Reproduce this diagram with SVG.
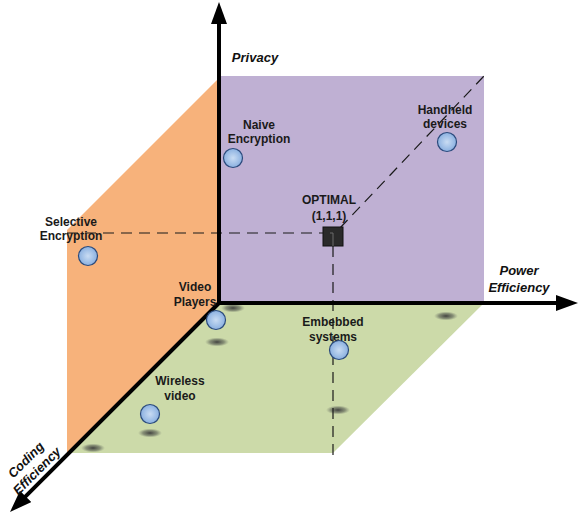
<svg xmlns="http://www.w3.org/2000/svg" width="579" height="515" viewBox="0 0 579 515">
  <defs>
    <style>
      .lbl { font-family: "Liberation Sans", Arial, sans-serif; font-weight: bold; font-size: 12px; fill: #1a1a1a; text-anchor: middle; }
      .ax { font-family: "Liberation Sans", Arial, sans-serif; font-weight: bold; font-style: italic; font-size: 13px; fill: #111; text-anchor: middle; }
      .axis { stroke: #000; stroke-width: 4; fill: none; marker-end: url(#arrow); }
      .dash { stroke: #1a1a1a; stroke-width: 1.2; stroke-dasharray: 11 7; fill: none; }
      .pt { fill: url(#ball); stroke: #2b4a7c; stroke-width: 1.2; }
      .sh { fill: url(#shadow); }
    </style>
    <radialGradient id="ball" cx="0.5" cy="0.5" r="0.5">
      <stop offset="0" stop-color="#c9dcf3"/>
      <stop offset="1" stop-color="#8ab0e0"/>
    </radialGradient>
    <radialGradient id="shadow" cx="0.5" cy="0.5" r="0.5">
      <stop offset="0" stop-color="#3a3a3a" stop-opacity="0.95"/>
      <stop offset="0.6" stop-color="#5a5f55" stop-opacity="0.6"/>
      <stop offset="1" stop-color="#7a8070" stop-opacity="0"/>
    </radialGradient>
    <marker id="arrow" markerUnits="userSpaceOnUse" viewBox="0 0 22 16" markerWidth="22" markerHeight="16" refX="12" refY="8" orient="auto">
      <path d="M0,0 L22,8 L0,16 z" fill="#000"/>
    </marker>
  </defs>

  <g id="planes">
    <polygon id="plane-green" points="219,303 484,303 333,453 69,453" fill="#ccdaa9"/>
    <polygon id="plane-purple" points="219,76 484,76 484,303 219,303" fill="#bfb0d3"/>
    <polygon id="plane-orange" points="219,78 67,230 67,455 219,303" fill="#f7b27b"/>
  </g>

  <g id="shadows">
    <ellipse class="sh" cx="233" cy="308" rx="12" ry="4.5"/>
    <ellipse class="sh" cx="217" cy="342" rx="12" ry="4.5"/>
    <ellipse class="sh" cx="150" cy="433" rx="12" ry="4.5"/>
    <ellipse class="sh" cx="93" cy="448" rx="12" ry="4.5"/>
    <ellipse class="sh" cx="446" cy="316" rx="12" ry="4.5"/>
    <ellipse class="sh" cx="338" cy="410" rx="12" ry="4.5"/>
  </g>

  <g id="connectors">
    <line class="dash" x1="67" y1="233" x2="323" y2="233"/>
    <line class="dash" x1="333" y1="246" x2="333" y2="455"/>
    <line class="dash" x1="340" y1="228" x2="484" y2="76"/>
    <line class="axis" x1="219" y1="305" x2="219" y2="12"/>
    <line class="axis" x1="217" y1="303" x2="568" y2="303"/>
    <line class="axis" x1="219" y1="303" x2="17.1" y2="504.9"/>
  </g>

  <g id="optimal">
    <rect x="323" y="227" width="20" height="19" fill="#2a2a2a" stroke="#111" stroke-width="1"/>
    <path d="M330,233 L333,233 L333,246" stroke="#6a6a6a" stroke-width="1" fill="none"/>
    <text class="lbl" x="329" y="204">OPTIMAL</text>
    <text class="lbl" x="329" y="220">(1,1,1)</text>
  </g>

  <g id="naive">
    <text class="lbl" x="259" y="129">Naive</text>
    <text class="lbl" x="259" y="143">Encryption</text>
    <circle class="pt" cx="233" cy="158" r="9.5"/>
  </g>

  <g id="selective">
    <text class="lbl" x="71" y="226">Selective</text>
    <text class="lbl" x="71" y="240">Encryption</text>
    <circle class="pt" cx="88" cy="256" r="9.5"/>
  </g>

  <g id="handheld">
    <text class="lbl" x="445" y="114">Handheld</text>
    <text class="lbl" x="445" y="128">devices</text>
    <circle class="pt" cx="447" cy="142" r="9.5"/>
  </g>

  <g id="video-players">
    <text class="lbl" x="195" y="291">Video</text>
    <text class="lbl" x="195" y="306">Players</text>
    <circle class="pt" cx="216" cy="320" r="9.5"/>
  </g>

  <g id="wireless">
    <text class="lbl" x="180" y="385">Wireless</text>
    <text class="lbl" x="180" y="400">video</text>
    <circle class="pt" cx="150" cy="414" r="9.5"/>
  </g>

  <g id="embedded">
    <text class="lbl" x="333" y="326">Embebbed</text>
    <text class="lbl" x="333" y="341">systems</text>
    <circle class="pt" cx="339" cy="350" r="9.5"/>
  </g>

  <g id="axis-labels">
    <text class="ax" x="255" y="62">Privacy</text>
    <text class="ax" x="519" y="275">Power</text>
    <text class="ax" x="519" y="292">Efficiency</text>
    <text class="ax" transform="translate(29,463) rotate(-45)">Coding</text>
    <text class="ax" transform="translate(40,474) rotate(-45)">Efficiency</text>
  </g>
</svg>
